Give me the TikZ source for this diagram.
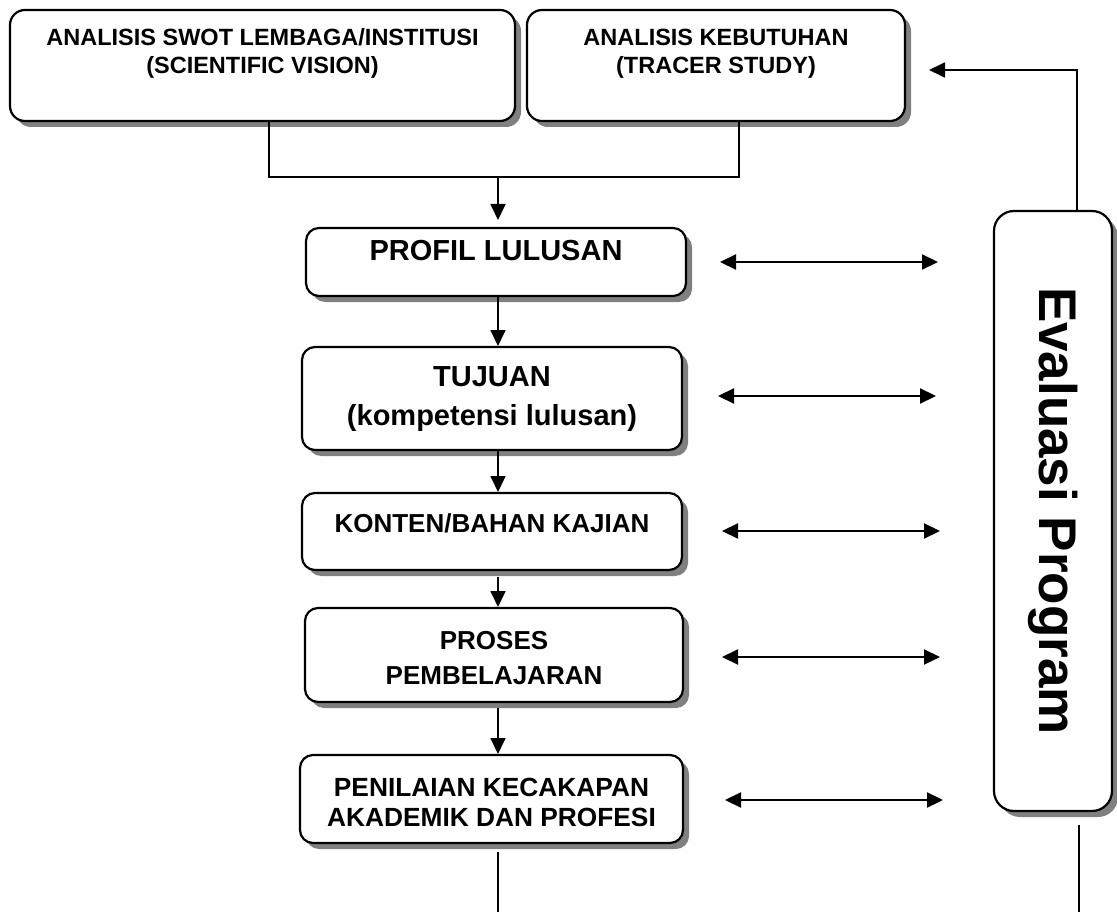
\documentclass[tikz,border=0pt]{standalone}
\usepackage{fontspec}
\setmainfont{Liberation Sans}
\usetikzlibrary{arrows.meta,shadows}
\definecolor{shadowgray}{RGB}{128,128,128}
\newcommand\lifted[2]{\raisebox{#1}[\height][\depth]{\begin{tabular}{@{}c@{}}#2\end{tabular}}}
\begin{document}
\begin{tikzpicture}[x=1pt,y=-1pt,
  box/.style={draw, line width=2.2pt, rounded corners=15pt, fill=white,
    inner sep=0pt, outer sep=0pt, font=\bfseries,
    general shadow={fill=shadowgray, shadow xshift=6pt, shadow yshift=-6pt}},
  conn/.style={line width=1.6pt},
  arr/.style={line width=1.8pt, -{Triangle[length=16pt,width=15pt]}},
  darr/.style={line width=2.2pt, {Triangle[length=16pt,width=15pt]}-{Triangle[length=16pt,width=15pt]}}
]
\useasboundingbox (0,0) rectangle (1117,912);
\fill[white] (0,0) rectangle (1117,912);

% top boxes
\node[box, minimum width=505pt, minimum height=111pt] (swot) at (262.5,65.5)
  {\fontsize{23.5}{28}\selectfont\lifted{11.5pt}{ANALISIS SWOT LEMBAGA/INSTITUSI\\(SCIENTIFIC VISION)}};
\node[box, minimum width=378pt, minimum height=111pt] (kebutuhan) at (716,65.5)
  {\fontsize{23.5}{28}\selectfont\lifted{11.5pt}{ANALISIS KEBUTUHAN\\(TRACER STUDY)}};

% main column
\node[box, rounded corners=13pt, minimum width=380pt, minimum height=68pt] (profil) at (496,262)
  {\fontsize{29}{35}\selectfont\lifted{8.5pt}{PROFIL LULUSAN}};
\node[box, rounded corners=13pt, minimum width=380pt, minimum height=103pt] (tujuan) at (492,398.5)
  {\fontsize{29}{39}\selectfont\lifted{0pt}{TUJUAN\\(kompetensi lulusan)}};
\node[box, rounded corners=13pt, minimum width=380pt, minimum height=77pt] (konten) at (492,531.5)
  {\fontsize{26}{31}\selectfont\lifted{5.5pt}{KONTEN/BAHAN KAJIAN}};
\node[box, rounded corners=13pt, minimum width=378pt, minimum height=94pt] (proses) at (494,655)
  {\fontsize{26}{35}\selectfont\lifted{-4.5pt}{PROSES\\PEMBELAJARAN}};
\node[box, rounded corners=13pt, minimum width=383pt, minimum height=88pt] (penilaian) at (491.5,799)
  {\fontsize{26.3}{30}\selectfont\lifted{-6pt}{PENILAIAN KECAKAPAN\\AKADEMIK DAN PROFESI}};

% evaluation box
\node[box, rounded corners=20pt, minimum width=118pt, minimum height=600pt] (eval) at (1053,511)
  {\rotatebox{-90}{\fontsize{53}{60}\selectfont Evaluasi Program}\hspace{22pt}};

% coordinates
\coordinate (sp) at (498,0);
\coordinate (merge) at (498,177);
\coordinate (ex) at (1077,0);
\coordinate (fb) at (929,70);
\coordinate (b1) at (498,912);
\coordinate (b2) at (1079,912);

% top connector
\draw[conn] (swot.south -| 269,0) -- (269,0 |- merge) -- (739,0 |- merge) -- (kebutuhan.south -| 739,0);
\draw[arr, shorten >=8pt] (merge) -- (merge |- profil.north);

% spine arrows
\draw[arr, shorten >=1pt] (profil.south -| sp) -- (tujuan.north -| sp);
\draw[arr, shorten >=1pt] (tujuan.south -| sp) -- (konten.north -| sp);
\draw[arr, shorten <=7pt, shorten >=1pt] (konten.south -| sp) -- (proses.north -| sp);
\draw[arr, shorten <=6pt, shorten >=1pt] (proses.south -| sp) -- (penilaian.north -| sp);
\draw[conn, shorten <=9pt] (penilaian.south -| sp) -- (b1);

% feedback
\draw[arr] (eval.north -| ex) |- (fb);
\draw[conn, shorten <=14pt] (eval.south -| b2) -- (b2);

% double arrows
\coordinate (l1) at (720,262); \coordinate (r1) at (938,262);
\coordinate (l2) at (718,396); \coordinate (r2) at (936,396);
\coordinate (l3) at (722,531); \coordinate (r3) at (940,531);
\coordinate (l4) at (722,657); \coordinate (r4) at (940,657);
\coordinate (l5) at (725,800); \coordinate (r5) at (943,800);
\draw[darr] (l1) -- (r1);
\draw[darr] (l2) -- (r2);
\draw[darr] (l3) -- (r3);
\draw[darr] (l4) -- (r4);
\draw[darr] (l5) -- (r5);
\end{tikzpicture}
\end{document}
